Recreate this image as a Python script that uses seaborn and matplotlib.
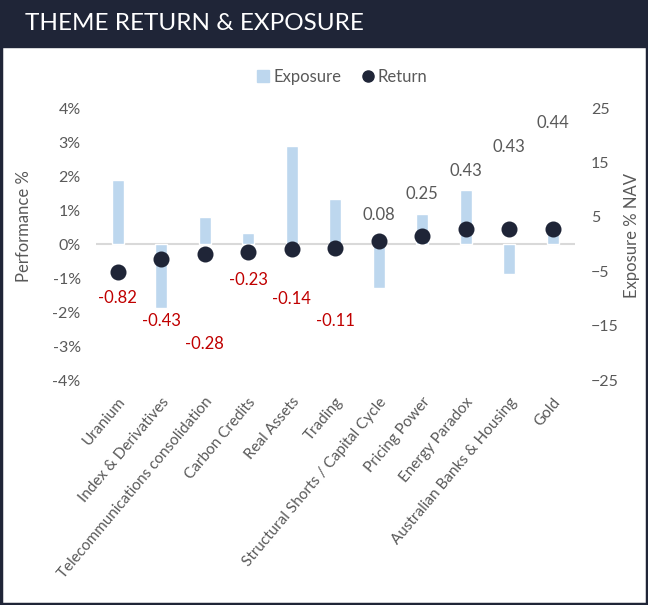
import pandas as pd
import seaborn as sns
import matplotlib.pyplot as plt
from matplotlib.lines import Line2D
from matplotlib.patches import Rectangle
from matplotlib import transforms

themes = [
    "Uranium", "Index & Derivatives", "Telecommunications consolidation",
    "Carbon Credits", "Real Assets", "Trading",
    "Structural Shorts / Capital Cycle", "Pricing Power", "Energy Paradox",
    "Australian Banks & Housing", "Gold",
]
returns = [-0.82, -0.43, -0.28, -0.23, -0.14, -0.11, 0.08, 0.25, 0.43, 0.43, 0.44]
exposure = [11.7, -11.7, 4.9, 2.0, 18.1, 8.2, -8.0, 5.6, 9.9, -5.6, 2.4]

left_ticks = [-4, -3, -2, -1, 0, 1, 2, 3, 4]
right_ticks = [-25, -15, -5, 5, 15, 25]

# data labels were hand placed in the source chart (points, + is up)
label_offsets = [-19, -45, -65, -20, -36, -53, 19, 30, 42, 59, 76]

NAVY = "#1f2537"
BLUE = "#bdd7ee"
GREY = "#595959"
RED = "#c00000"

sns.set_style("white")
plt.rcParams["font.family"] = ["Lato", "DejaVu Sans"]

df = pd.DataFrame({"theme": themes, "ret": returns, "exp": exposure})

fig = plt.figure(figsize=(6.48, 6.05), dpi=100)

# title bar and frame
fig.patches.append(Rectangle((0, 1 - 47 / 605), 1, 47 / 605, transform=fig.transFigure,
                             color=NAVY, zorder=0))
fig.patches.append(Rectangle((0.002, 0.002), 0.996, 0.996, transform=fig.transFigure,
                             fill=False, edgecolor=NAVY, linewidth=2.5, zorder=5))
fig.text(25 / 648, 1 - 23 / 605, "THEME RETURN & EXPOSURE", color="white",
         fontsize=17.5, va="center", ha="left")

ax = fig.add_axes([96 / 648, 225 / 605, 478.5 / 648, 272 / 605])
ax2 = ax.twinx()

# exposure bars on the right axis
sns.barplot(data=df, x="theme", y="exp", ax=ax2, color=BLUE, saturation=1,
            width=0.27, errorbar=None)
ax2.axhline(0, color="#d9d9d9", linewidth=1.5, zorder=0)

# returns as dots on the left axis
sns.pointplot(data=df, x="theme", y="ret", ax=ax, color=NAVY, errorbar=None,
              markers="o", linestyle="none", markersize=9.5)

ax.set_zorder(ax2.get_zorder() + 1)
ax.patch.set_visible(False)

for i, (v, off) in enumerate(zip(returns, label_offsets)):
    ax.annotate(f"{v:.2f}", xy=(i, v), xytext=(0, off), textcoords="offset points",
                ha="center", va="center", fontsize=12,
                color=RED if v < 0 else GREY)

ax.set_ylim(-4, 4)
ax.set_yticks(left_ticks)
ax.set_yticklabels([f"{t}%" for t in left_ticks])
ax2.set_ylim(-25, 25)
ax2.set_yticks(right_ticks)
ax.set_xlim(-0.5, len(themes) - 0.5)

ax.set_ylabel("Performance %", color=GREY, fontsize=12)
ax2.set_ylabel("Exposure % NAV", color=GREY, fontsize=12)
ax.yaxis.set_label_coords(-0.134, 0.566)
ax2.yaxis.set_label_coords(1.103, 0.533)
ax2.set_xlabel("")
ax.set_xlabel("")

ax.tick_params(axis="y", length=0, pad=11, labelcolor=GREY, labelsize=11.5)
ax2.tick_params(axis="y", length=0, pad=12, labelcolor=GREY, labelsize=11.5)
ax.tick_params(axis="x", length=0, pad=14, labelcolor=GREY, labelsize=11)
ax.set_xticks(range(len(themes)))
ax.set_xticklabels(themes, rotation=50, ha="right", va="center", rotation_mode="anchor")
shift = transforms.ScaledTranslation(5 / 100, 0, fig.dpi_scale_trans)
for lab in ax.get_xticklabels():
    lab.set_transform(lab.get_transform() + shift)
ax2.tick_params(axis="x", length=0, labelbottom=False)

for a in (ax, ax2):
    for s in a.spines.values():
        s.set_visible(False)

handles = [
    Line2D([], [], marker="s", linestyle="none", color=BLUE, markersize=8),
    Line2D([], [], marker="o", linestyle="none", color=NAVY, markersize=8),
]
fig.legend(handles, ["Exposure", "Return"], loc="center", ncol=2,
           bbox_to_anchor=(342 / 648, 1 - 77 / 605), frameon=False,
           handlelength=0.8, handletextpad=0.2, columnspacing=1.2,
           labelcolor=GREY, fontsize=12)

fig.savefig("out.png", dpi=100)
